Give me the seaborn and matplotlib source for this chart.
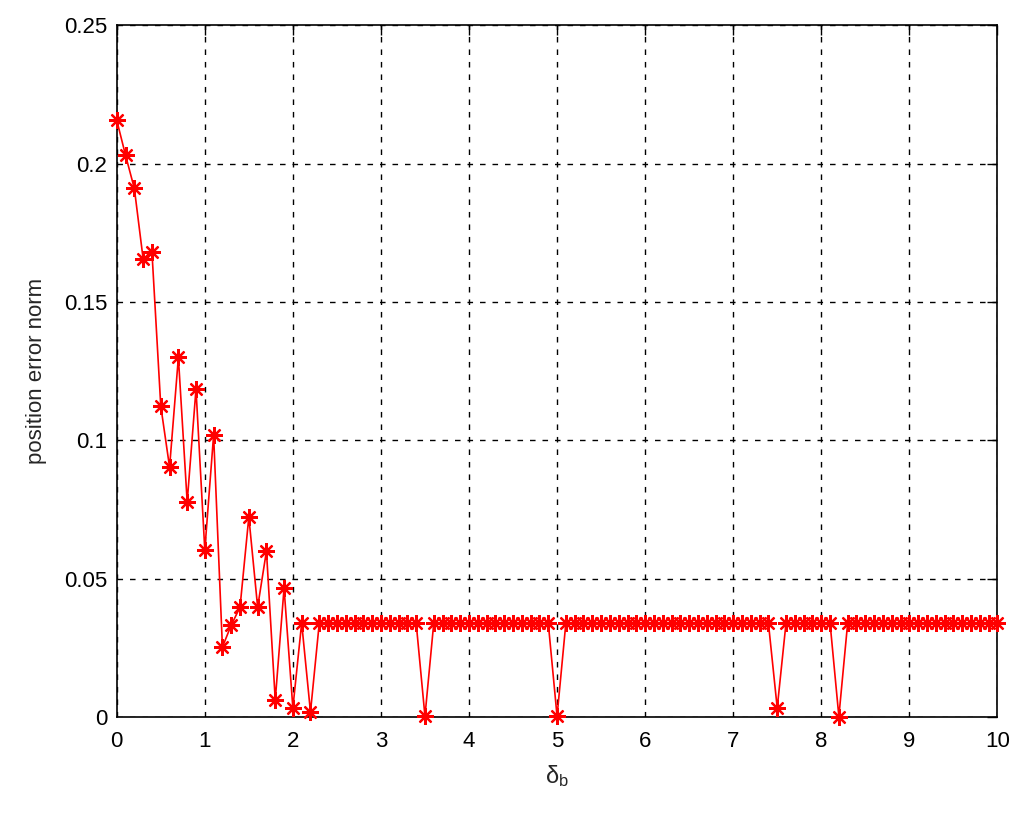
import numpy as np
import pandas as pd
import matplotlib
matplotlib.use("Agg")
import matplotlib.pyplot as plt
import seaborn as sns

# delta_b values, step 0.1 from 0 to 10
delta_b = np.round(np.arange(0, 101) * 0.1, 1)

# first part of the curve (x = 0.0 .. 2.2)
head = [0.2157, 0.2030, 0.1910, 0.1655, 0.1680, 0.1124, 0.0903, 0.1300,
        0.0777, 0.1185, 0.0603, 0.1019, 0.0253, 0.0332, 0.0397, 0.0723,
        0.0397, 0.0600, 0.0061, 0.0466, 0.0033, 0.0340, 0.0018]

# plateau level and the dips after x = 2.2
plateau = 0.0340
dip_x = [3.5, 5.0, 7.5, 8.2]
dip_y = [0.0003, 0.0003, 0.0033, 0.0002]

err = [plateau] * len(delta_b)
err[:len(head)] = head
for dx, dy in zip(dip_x, dip_y):
    err[int(round(dx * 10))] = dy

df = pd.DataFrame({"delta_b": delta_b, "err": err})

sns.set_style("white")
plt.rcParams["font.family"] = ["Liberation Sans", "DejaVu Sans"]
plt.rcParams["mathtext.fontset"] = "custom"
plt.rcParams["mathtext.rm"] = "Liberation Sans"

fig = plt.figure(figsize=(10.24, 8.13), dpi=100)
ax = fig.add_axes([0.114, 0.118, 0.860, 0.851])

# matlab style '*' marker -> 8 spoke asterisk
sns.lineplot(data=df, x="delta_b", y="err", ax=ax, color="red",
             marker=(8, 2, 0), markersize=12, markeredgecolor="red",
             markeredgewidth=1.6, linewidth=1.2, estimator=None)
for ln in ax.lines:
    ln.set_clip_on(False)
    ln.set_zorder(5)

ax.set_xlim(0, 10)
ax.set_ylim(0, 0.25)
ax.set_xticks(range(0, 11))
ax.set_yticks([0, 0.05, 0.1, 0.15, 0.2, 0.25])
ax.set_yticklabels(["0", "0.05", "0.1", "0.15", "0.2", "0.25"])

ax.grid(True, color="black", linestyle=(0, (4, 5)), linewidth=1.0)
ax.tick_params(direction="in", length=7, width=1, top=True, right=True,
               labelsize=16, colors="black")
ax.tick_params(axis="x", pad=10)
ax.tick_params(axis="y", pad=7)
for s in ax.spines.values():
    s.set_visible(True)
    s.set_color("black")
    s.set_linewidth(1.2)

ax.set_xlabel(r"$\mathregular{\delta_b}$", fontsize=17, labelpad=8)
ax.set_ylabel("position error norm", fontsize=16, labelpad=12)

fig.savefig("out.png", dpi=100)
